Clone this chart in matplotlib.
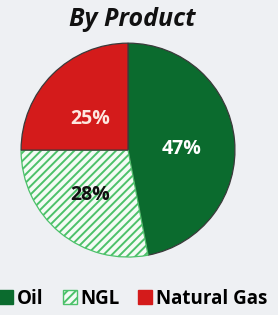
import matplotlib.pyplot as plt
from matplotlib.patches import Patch

# data
products = ["Oil", "NGL", "Natural Gas"]
shares = [47, 28, 25]

colors = ["#0b6b2e", "#f4fbf5", "#d41b1b"]
hatches = [None, "////", None]
label_colors = ["white", "#111111", "#fde8e0"]

plt.rcParams["hatch.linewidth"] = 1.4
plt.rcParams["hatch.color"] = "#4cc16a"

fig = plt.figure(figsize=(2.78, 3.15), dpi=100)
fig.patch.set_facecolor("#eef0f3")

ax = fig.add_axes([0.0755, 0.184, 0.77, 0.679])
ax.set_facecolor("none")

wedges, texts, autotexts = ax.pie(
    shares,
    colors=colors,
    startangle=90,
    counterclock=False,
    autopct="%d%%",
    pctdistance=0.55,
    wedgeprops=dict(edgecolor="#3a3a3a", linewidth=0.9),
    textprops=dict(fontsize=14, fontweight="bold", family="Open Sans"),
)
for w, h in zip(wedges, hatches):
    if h:
        w.set_hatch(h)
        w.set_edgecolor("#4cc16a")
for t, c in zip(autotexts, label_colors):
    t.set_color(c)
# nudge labels slightly, as in the source
x, y = autotexts[0].get_position()
autotexts[0].set_position((x * 0.92, y * 0.2))
x, y = autotexts[2].get_position()
autotexts[2].set_position((x * 0.92, y * 0.75))
ax.set_xlim(-1.0, 1.0)
ax.set_ylim(-1.0, 1.0)
ax.set_aspect("equal")

fig.text(0.475, 0.938, "By Product", ha="center", va="center",
         fontsize=18, fontweight="bold", fontstyle="italic",
         family="Open Sans", color="#111111")

handles = [Patch(facecolor=c, hatch=h, edgecolor=("#4cc16a" if h else c))
           for c, h in zip(colors, hatches)]
fig.legend(handles, products, loc="center", bbox_to_anchor=(0.48, 0.052),
           ncol=3, frameon=False, handlelength=0.75, handleheight=0.75,
           handletextpad=0.2, columnspacing=1.0,
           prop=dict(family="Open Sans", weight="bold", size=13.5))

fig.savefig("out.png", dpi=100, facecolor=fig.get_facecolor())
